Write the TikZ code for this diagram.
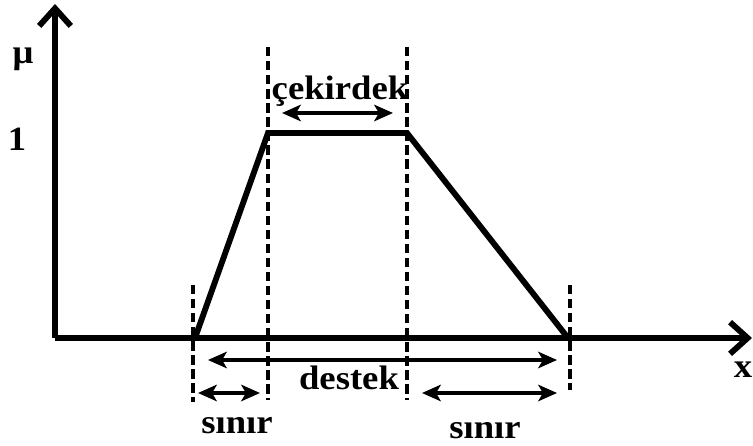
\documentclass[tikz,border=0pt]{standalone}
\usepackage{fontspec}
\setmainfont{Liberation Serif}[FakeStretch=1.08]
\usetikzlibrary{arrows.meta,positioning}

\begin{document}
\begin{tikzpicture}[x=0.03cm, y=0.03cm,
  axis/.style={line width=5pt, -{Straight Barb[length=15pt,width=27pt]}},
  curve/.style={line width=5pt, line join=miter},
  guide/.style={line width=3pt, dash pattern=on 8pt off 4pt},
  span/.style={line width=3.4pt, {Stealth[length=16pt,width=14pt,inset=4pt]}-{Stealth[length=16pt,width=14pt,inset=4pt]}},
  lbl/.style={font=\fontsize{29}{34}\selectfont\bfseries, inner sep=0pt}]
  \useasboundingbox (0,0) rectangle (753,445);

  % Define nodes
  \coordinate (O) at (55,107);
  \coordinate (Ytop) at (55,441);
  \coordinate (Xend) at (752,107);
  \coordinate (A) at (195,107);
  \coordinate (B) at (268,312);
  \coordinate (C) at (407,312);
  \coordinate (D) at (568,107);
  \coordinate (g1t) at (193,160);
  \coordinate (g1b) at (193,43);
  \coordinate (g2t) at (268,398);
  \coordinate (g2b) at (268,45);
  \coordinate (g3t) at (407,398);
  \coordinate (g3b) at (407,45);
  \coordinate (g4t) at (570,160);
  \coordinate (g4b) at (570,55);
  \coordinate (k1) at (282,332);
  \coordinate (k2) at (393,332);
  \coordinate (d1) at (208,85);
  \coordinate (d2) at (557,85);
  \coordinate (s1) at (198,52);
  \coordinate (s2) at (260,52);
  \coordinate (s3) at (422,52);
  \coordinate (s4) at (557,52);

  \node[lbl] (mu) at (23,386) {μ};
  \node[lbl] (one) at (17,306) {1};
  \node[lbl] (xl) at (743,75) {x};
  \node[lbl] (core) at (340,354) {çekirdek};
  \node[lbl] (supp) at (349,67) {destek};
  \node[lbl] (bl) at (237,19) {sınır};
  \node[lbl] (br) at (485,14) {sınır};

  % Draw dashed guides
  \draw[guide] (g1t) -- (g1b);
  \draw[guide] (g2t) -- (g2b);
  \draw[guide] (g3t) -- (g3b);
  \draw[guide] (g4t) -- (g4b);

  % Draw axes and the trapezoid
  \draw[axis] (O) -- (Ytop);
  \draw[axis] (O) -- (Xend);
  \draw[curve] (A) -- (B) -- (C) -- (D);

  % Draw spans
  \draw[span] (k1) -- (k2);
  \draw[span] (d1) -- (d2);
  \draw[span] (s1) -- (s2);
  \draw[span] (s3) -- (s4);
\end{tikzpicture}
\end{document}
